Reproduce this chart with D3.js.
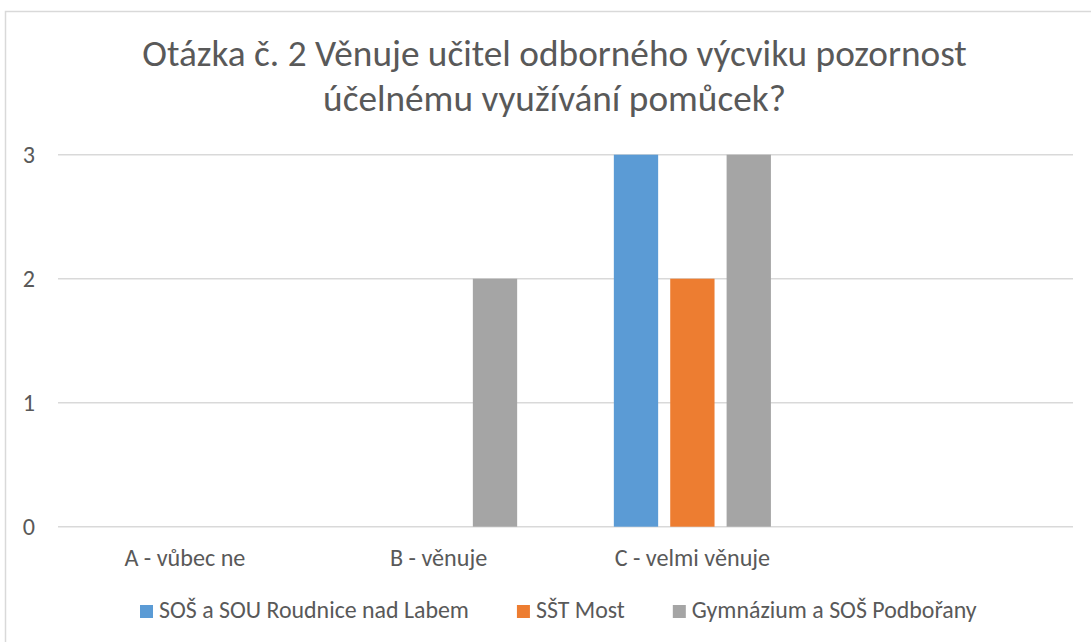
<!DOCTYPE html>
<html>
<head>
<meta charset="utf-8">
<script src="https://cdn.jsdelivr.net/npm/d3@7"></script>
<style>
  html, body { margin: 0; padding: 0; background: #fff; overflow: hidden; }
  text { font-family: Carlito, Calibri, Lato, sans-serif; fill: #595959; }
</style>
</head>
<body>
<div id="chart"></div>
<script>
// data
const categories = ["A - vůbec ne", "B - věnuje", "C - velmi věnuje", ""];
const seriesNames = ["SOŠ a SOU Roudnice nad Labem", "SŠT Most", "Gymnázium a SOŠ Podbořany"];
const roudnice = [0, 0, 3, 0];
const most = [0, 0, 2, 0];
const podborany = [0, 2, 3, 0];
const yTicks = [0, 1, 2, 3];
const titleLines = ["Otázka č. 2 Věnuje učitel odborného výcviku pozornost", "účelnému využívání pomůcek?"];

const colors = ["#5B9BD5", "#ED7D31", "#A5A5A5"];
const seriesValues = [roudnice, most, podborany];

const W = 1091, H = 642;
const plot = {left: 58, right: 1073, top: 154.7, bottom: 526.7};

const svg = d3.select("#chart")
  .append("svg")
    .attr("width", W)
    .attr("height", H);

// chart area border (cropped on right/bottom)
svg.append("rect")
  .attr("x", 5.5).attr("y", 11.5)
  .attr("width", 1200).attr("height", 800)
  .style("fill", "none")
  .style("stroke", "#D9D9D9")
  .style("stroke-width", 1.5);

// helper: font size so that text reaches a given width
function fitSize(txt, target) {
  const t = svg.append("text").style("font-size", "100px").text(txt);
  const w = t.node().getComputedTextLength();
  t.remove();
  return 100 * target / w;
}

// title
const titleSize = fitSize(titleLines[0], 825);
svg.selectAll(".title")
  .data(titleLines)
  .join("text")
    .attr("class", "title")
    .attr("x", 554.5)
    .attr("y", (d, i) => 66 + i * 45)
    .attr("text-anchor", "middle")
    .style("font-size", titleSize + "px")
    .text(d => d);

// scales
const x0 = d3.scaleBand()
  .domain(d3.range(categories.length))
  .range([plot.left, plot.right])
  .paddingInner(0.381)
  .paddingOuter(0.1905);

const x1 = d3.scaleBand()
  .domain(d3.range(seriesNames.length))
  .range([0, x0.bandwidth()])
  .paddingInner(0.214)
  .paddingOuter(0);

const y = d3.scaleLinear()
  .domain([0, 3])
  .range([plot.bottom, plot.top]);

const labelSize = fitSize(categories[0], 121);

// gridlines
svg.append("g")
  .selectAll("line")
  .data(yTicks)
  .join("line")
    .attr("x1", plot.left).attr("x2", plot.right)
    .attr("y1", d => y(d)).attr("y2", d => y(d))
    .style("stroke", "#D9D9D9")
    .style("stroke-width", 1.5);

// y axis labels
const yAxis = svg.append("g")
  .attr("transform", `translate(${plot.left},0)`)
  .call(d3.axisLeft(y).tickValues(yTicks).tickSize(0).tickPadding(23).tickFormat(d3.format("d")));
yAxis.select(".domain").remove();
yAxis.selectAll("text")
  .attr("fill", null)
  .style("font-size", labelSize + "px")
  .style("font-family", null);

// bars
const groups = svg.append("g")
  .selectAll("g")
  .data(categories.map((c, i) => i))
  .join("g")
    .attr("transform", i => `translate(${x0(i)},0)`);

groups.selectAll("rect")
  .data(i => seriesValues.map((vals, s) => ({s: s, v: vals[i]})))
  .join("rect")
    .attr("x", d => x1(d.s))
    .attr("width", x1.bandwidth())
    .attr("y", d => y(d.v))
    .attr("height", d => y(0) - y(d.v))
    .style("fill", d => colors[d.s]);

// x axis labels
const xAxis = svg.append("g")
  .attr("transform", `translate(0,${plot.bottom})`)
  .call(d3.axisBottom(x0).tickSize(0).tickPadding(22).tickFormat(i => categories[i]));
xAxis.select(".domain").remove();
xAxis.selectAll("text")
  .attr("fill", null)
  .style("font-size", labelSize + "px")
  .style("font-family", null);

// legend
const legendSize = fitSize(seriesNames[0], 310);
const legend = svg.append("g");
const items = legend.selectAll("g")
  .data(seriesNames)
  .join("g");
items.append("rect")
  .attr("width", 13).attr("height", 13)
  .attr("y", 605)
  .style("fill", (d, i) => colors[i]);
items.append("text")
  .attr("x", 19)
  .attr("y", 618)
  .style("font-size", legendSize + "px")
  .text(d => d);

let cx = 0;
const itemX = [];
items.each(function() {
  itemX.push(cx);
  cx += 19 + d3.select(this).select("text").node().getComputedTextLength() + 48;
});
const startX = 140;
items.attr("transform", (d, i) => `translate(${startX + itemX[i]},0)`);
</script>
</body>
</html>
